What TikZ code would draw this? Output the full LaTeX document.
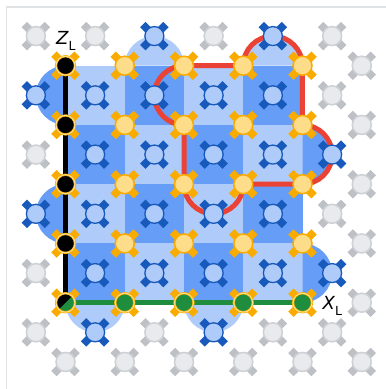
\documentclass[tikz,border=0pt]{standalone}
\usepackage{fontspec}
\setmainfont{DejaVu Sans}
\usetikzlibrary{backgrounds}
\definecolor{lightp}{HTML}{AECBFA}
\definecolor{darkp}{HTML}{669DF6}
\definecolor{bluearm}{HTML}{185ABC}
\definecolor{goldarm}{HTML}{F9AB00}
\definecolor{goldfill}{HTML}{FDDC8A}
\definecolor{grayarm}{HTML}{BDC1C6}
\definecolor{grayring}{HTML}{CDD0D4}
\definecolor{grayfill}{HTML}{E8EAED}
\definecolor{redloop}{HTML}{EA4335}
\definecolor{greenl}{HTML}{1E8E3E}
\definecolor{ringl}{HTML}{FDE293}
\definecolor{frameline}{HTML}{E0E3E6}
\tikzset{
  qcore/.style={circle,inner sep=0pt,outer sep=0pt,minimum size=19pt},
  dataq/.style={qcore,draw=goldarm,line width=1.5pt,fill=goldfill},
  measq/.style={qcore,draw=bluearm,line width=1.3pt,fill=lightp},
  idleq/.style={qcore,draw=grayring,line width=1.5pt,fill=grayfill},
  blackq/.style={qcore,draw=goldarm,double=ringl,double distance=.9pt,line width=.7pt,fill=black},
  greenq/.style={qcore,draw=goldarm,double=ringl,double distance=.9pt,line width=.7pt,fill=greenl},
  splitq/.style={greenq,path picture={\fill[black] (path picture bounding box.south west) -- (path picture bounding box.north east) -- (path picture bounding box.north west) -- cycle;}},
  armline/.style={line width=7.6pt},
  lightcell/.style={fill=lightp},
  darkcell/.style={fill=darkp},
  redpath/.style={draw=redloop,line width=5pt},
  zpath/.style={draw=black,line width=5.5pt},
  xpath/.style={draw=greenl,line width=5.5pt},
  qlabel/.style={inner sep=0pt,anchor=base west,text=black,font=\fontsize{18}{18}\selectfont\itshape},
  x=59.25pt,y=59.25pt
}
\newcommand{\qubit}[4]{% style, armcolor, name, position
  \draw[armline,#2] #4 ++(-11.6pt,-11.6pt) -- ++(23.2pt,23.2pt);
  \draw[armline,#2] #4 ++(-11.6pt,11.6pt) -- ++(23.2pt,-23.2pt);
  \node[#1] (#3) at #4 {};
}
\newcommand{\subL}{\raisebox{-6pt}{\fontsize{12.5}{12.5}\selectfont\upshape L}}
\begin{document}
\begin{tikzpicture}
\useasboundingbox (-65.5pt,65.7pt) rectangle (320.5pt,-323.3pt);
\draw[frameline,line width=1.6pt] (320.5pt,58.9pt) -- (-58.8pt,58.9pt) -- (-58.8pt,-323.3pt);
% idle lattice
\foreach \i/\j in {-1/-1,0/-1,2/-1,4/-1,4/0,-1/1,4/2,-1/3,-1/4,1/4,3/4,4/4}
  {\qubit{idleq}{grayarm}{g\i m\j}{(\i+.5,-\j-.5)}}
\foreach \j in {0,...,5} {\qubit{idleq}{grayarm}{e\j}{(5,-\j)}}
\foreach \i in {0,...,4} {\qubit{idleq}{grayarm}{b\i}{(\i,-5)}}
% measure qubits
\foreach \i/\j in {1/-1,3/-1,
  -1/0,0/0,1/0,2/0,3/0,
  0/1,1/1,2/1,3/1,4/1,
  -1/2,0/2,1/2,2/2,3/2,
  0/3,1/3,2/3,3/3,4/3,
  0/4,2/4}
  {\qubit{measq}{bluearm}{m\i m\j}{(\i+.5,-\j-.5)}}
% data qubits
\foreach \i in {1,...,4} {\foreach \j in {0,...,3} {\qubit{dataq}{goldarm}{d\i\j}{(\i,-\j)}}}
\foreach \j in {0,...,3} {\qubit{blackq}{goldarm}{d0\j}{(0,-\j)}}
\foreach \i in {1,...,4} {\qubit{greenq}{goldarm}{d\i4}{(\i,-4)}}
\qubit{splitq}{goldarm}{d04}{(0,-4)}
\begin{pgfonlayer}{background}
  % checkerboard plaquettes
  \foreach \i/\j in {0/0,2/0,1/1,3/1,0/2,2/2,1/3,3/3}
    {\pgfmathtruncatemacro{\ii}{\i+1}\pgfmathtruncatemacro{\jj}{\j+1}
     \fill[lightcell] (d\i\j.center) rectangle (d\ii\jj.center);}
  \foreach \i/\j in {1/0,3/0,0/1,2/1,1/2,3/2,0/3,2/3}
    {\pgfmathtruncatemacro{\ii}{\i+1}\pgfmathtruncatemacro{\jj}{\j+1}
     \fill[darkcell] (d\i\j.center) rectangle (d\ii\jj.center);}
  % boundary half-discs
  \fill[lightcell] (d20.center) arc[start angle=0,end angle=180,radius=29.6pt] -- cycle;
  \fill[lightcell] (d40.center) arc[start angle=0,end angle=180,radius=29.6pt] -- cycle;
  \fill[lightcell] (d04.center) arc[start angle=180,end angle=360,radius=29.6pt] -- cycle;
  \fill[lightcell] (d24.center) arc[start angle=180,end angle=360,radius=29.6pt] -- cycle;
  \fill[darkcell] (d00.center) arc[start angle=90,end angle=270,radius=29.6pt] -- cycle;
  \fill[darkcell] (d02.center) arc[start angle=90,end angle=270,radius=29.6pt] -- cycle;
  \fill[darkcell] (d41.center) arc[start angle=90,end angle=-90,radius=29.6pt] -- cycle;
  \fill[darkcell] (d43.center) arc[start angle=90,end angle=-90,radius=29.6pt] -- cycle;
  % logical operators
  \draw[redpath,line join=round] (d20.center) -- (d30.center)
    arc[start angle=180,end angle=0,radius=29.6pt]
    -- (d41.center) arc[start angle=90,end angle=-90,radius=29.6pt]
    -- (d32.center) arc[start angle=0,end angle=-180,radius=29.6pt]
    -- (d21.center) arc[start angle=270,end angle=90,radius=29.6pt] -- cycle;
  \draw[zpath] (d00.center) -- (d04.center);
  \draw[xpath] (d04.center) -- (d44.center);
\end{pgfonlayer}
\node[qlabel] (zl) at (-9.5pt,21.4pt) {Z\subL};
\node[qlabel] (xl) at (257pt,-244.2pt) {X\subL};
\end{tikzpicture}
\end{document}
